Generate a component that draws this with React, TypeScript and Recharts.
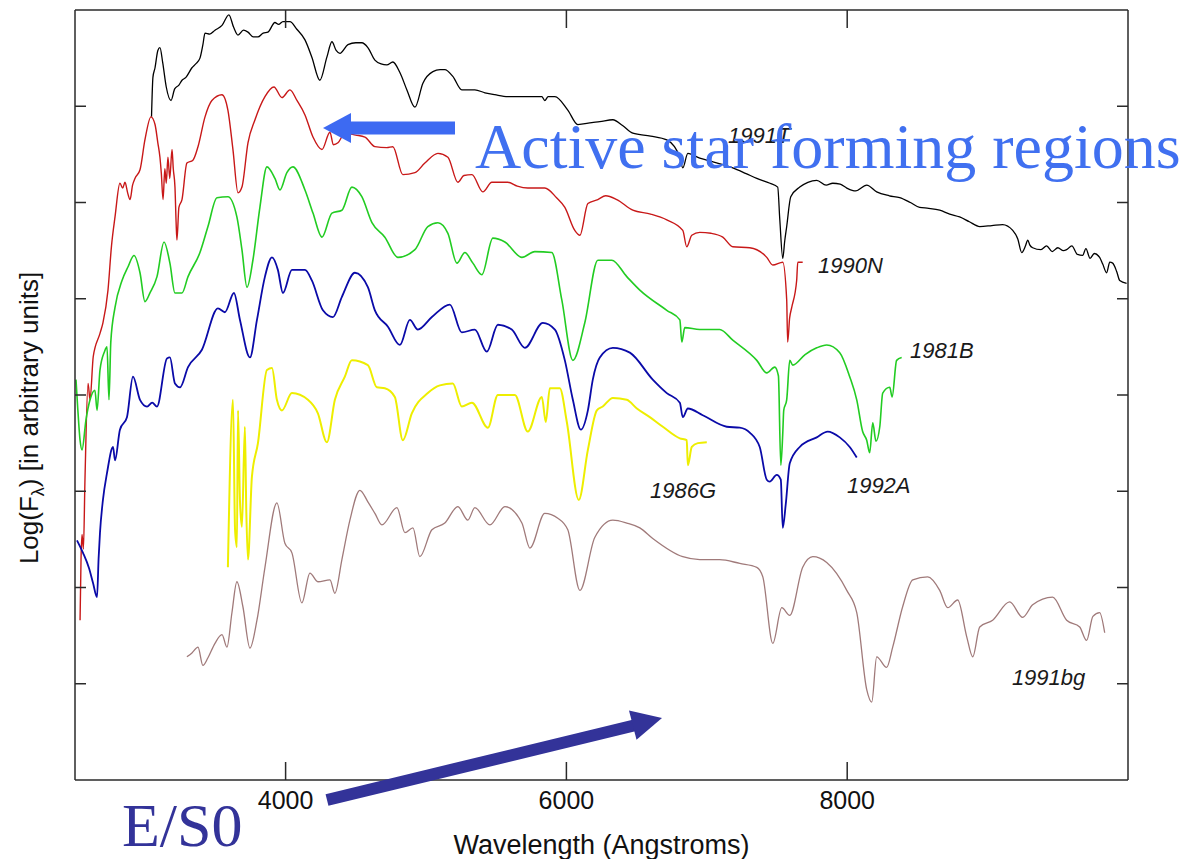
import { LineChart, Line, XAxis, YAxis, ReferenceDot } from 'recharts';

// spectra: [wavelength (Å), log flux (arbitrary, offset per SN)]
const sn1991T = [
  [3045, 6.89], [3055, 7.3], [3070, 7.4], [3090, 7.58], [3105, 7.61], [3125, 7.45], [3150, 7.2], [3184, 7.06],
  [3210, 7.18], [3240, 7.22], [3262, 7.27], [3290, 7.3], [3333, 7.4], [3360, 7.44], [3390, 7.5], [3411, 7.64],
  [3426, 7.76], [3460, 7.75], [3497, 7.79], [3547, 7.84], [3596, 7.95], [3630, 7.82], [3661, 7.74], [3700, 7.79],
  [3732, 7.77], [3770, 7.72], [3803, 7.72], [3840, 7.76], [3874, 7.77], [3924, 7.87], [3950, 7.85], [3981, 7.88],
  [4031, 7.88], [4080, 7.8], [4138, 7.69], [4187, 7.51], [4244, 7.27], [4294, 7.51], [4330, 7.67], [4360, 7.58],
  [4387, 7.55], [4444, 7.64], [4500, 7.66], [4543, 7.66], [4586, 7.61], [4636, 7.48], [4680, 7.44], [4721, 7.43],
  [4764, 7.46], [4814, 7.35], [4864, 7.17], [4921, 6.99], [4978, 7.24], [5049, 7.36], [5100, 7.38], [5134, 7.38],
  [5191, 7.31], [5255, 7.17], [5348, 7.17], [5420, 7.14], [5490, 7.12], [5583, 7.1], [5700, 7.1], [5825, 7.1],
  [5846, 7.06], [5870, 7.1], [5918, 7.1], [6010, 6.96], [6081, 6.81], [6181, 6.83], [6238, 6.84], [6331, 6.86],
  [6400, 6.8], [6473, 6.72], [6600, 6.69], [6715, 6.65], [6808, 6.47], [6829, 6.36], [6865, 6.51], [6950, 6.46],
  [7050, 6.42], [7185, 6.36], [7280, 6.3], [7356, 6.25], [7450, 6.2], [7505, 6.16], [7520, 5.82], [7541, 5.42],
  [7555, 5.6], [7569, 5.75], [7598, 6.06], [7662, 6.16], [7720, 6.21], [7783, 6.23], [7850, 6.18], [7897, 6.2],
  [7950, 6.19], [7997, 6.15], [8060, 6.12], [8139, 6.18], [8210, 6.11], [8300, 6.07], [8374, 6.05], [8450, 6.0],
  [8516, 5.95], [8580, 5.94], [8659, 5.92], [8730, 5.88], [8801, 5.85], [8870, 5.8], [8944, 5.75], [9030, 5.76],
  [9107, 5.77], [9179, 5.71], [9215, 5.62], [9243, 5.48], [9270, 5.55], [9286, 5.61], [9300, 5.56], [9321, 5.53],
  [9380, 5.51], [9420, 5.55], [9460, 5.49], [9500, 5.53], [9540, 5.5], [9563, 5.51], [9600, 5.55], [9640, 5.46],
  [9677, 5.45], [9700, 5.52], [9730, 5.42], [9760, 5.47], [9798, 5.43], [9820, 5.36], [9848, 5.27], [9870, 5.38],
  [9891, 5.37], [9920, 5.28], [9941, 5.19], [9990, 5.16],
];

const sn1990N = [
  [2536, 1.66], [2543, 2.3], [2550, 2.55], [2560, 2.4], [2571, 3.12], [2593, 4.12], [2607, 3.95], [2630, 4.4],
  [2678, 4.64], [2699, 4.75], [2735, 5.09], [2760, 5.55], [2785, 5.85], [2820, 6.2], [2840, 6.15], [2856, 6.21],
  [2875, 6.1], [2892, 6.03], [2910, 6.18], [2927, 6.25], [2963, 6.34], [2998, 6.65], [3041, 6.89], [3070, 6.81],
  [3090, 6.62], [3105, 6.47], [3115, 6.3], [3127, 6.03], [3140, 6.35], [3150, 6.2], [3162, 6.47], [3175, 6.25],
  [3191, 6.55], [3200, 6.35], [3212, 6.16], [3220, 5.8], [3226, 5.61], [3240, 5.95], [3262, 6.03], [3297, 6.41],
  [3340, 6.44], [3376, 6.58], [3426, 6.89], [3475, 7.06], [3547, 7.12], [3589, 6.96], [3625, 6.55], [3661, 6.1],
  [3689, 6.16], [3732, 6.62], [3782, 6.86], [3853, 7.1], [3917, 7.2], [3974, 7.09], [4031, 7.17], [4081, 7.06],
  [4138, 6.91], [4195, 6.68], [4259, 6.55], [4316, 6.73], [4340, 6.6], [4373, 6.62], [4422, 6.72], [4500, 6.7],
  [4565, 6.68], [4636, 6.58], [4721, 6.57], [4764, 6.58], [4835, 6.29], [4921, 6.31], [4992, 6.41], [5085, 6.51],
  [5156, 6.47], [5227, 6.21], [5270, 6.28], [5327, 6.29], [5405, 6.11], [5469, 6.21], [5583, 6.21], [5650, 6.17],
  [5725, 6.15], [5846, 6.15], [5930, 6.05], [5989, 5.95], [6060, 5.71], [6096, 5.66], [6153, 5.99], [6224, 6.03],
  [6280, 6.07], [6359, 6.03], [6473, 5.92], [6600, 5.88], [6715, 5.82], [6829, 5.71], [6857, 5.54], [6893, 5.66],
  [6950, 5.69], [7030, 5.68], [7114, 5.64], [7185, 5.54], [7306, 5.53], [7427, 5.43], [7470, 5.35], [7541, 5.38],
  [7569, 4.99], [7576, 4.55], [7590, 4.8], [7605, 4.91], [7640, 5.19], [7648, 5.38], [7683, 5.38],
];

const sn1981B = [
  [2507, 4.16], [2520, 3.85], [2536, 3.53], [2550, 3.43], [2578, 3.74], [2607, 3.95], [2642, 4.05], [2657, 3.84],
  [2678, 4.26], [2710, 4.45], [2728, 4.5], [2742, 3.95], [2755, 4.55], [2785, 4.91], [2835, 5.19], [2877, 5.33],
  [2920, 5.45], [2963, 5.27], [2998, 4.97], [3034, 5.06], [3084, 5.23], [3134, 5.59], [3176, 5.37], [3212, 5.06],
  [3262, 5.06], [3305, 5.23], [3390, 5.48], [3447, 5.75], [3511, 6.05], [3589, 6.06], [3653, 5.85], [3689, 5.51],
  [3725, 5.12], [3767, 5.4], [3817, 5.95], [3867, 6.37], [3924, 6.25], [3960, 6.13], [4009, 6.31], [4052, 6.37],
  [4138, 6.13], [4195, 5.89], [4259, 5.64], [4330, 5.89], [4401, 5.92], [4472, 6.16], [4543, 6.06], [4615, 5.79],
  [4707, 5.64], [4800, 5.43], [4921, 5.51], [5013, 5.75], [5085, 5.79], [5156, 5.68], [5220, 5.37], [5277, 5.48],
  [5334, 5.37], [5398, 5.25], [5476, 5.63], [5562, 5.59], [5683, 5.43], [5775, 5.49], [5896, 5.48], [5967, 4.99],
  [6046, 4.36], [6131, 4.75], [6224, 5.4], [6323, 5.4], [6430, 5.23], [6523, 5.09], [6715, 4.88], [6808, 4.78],
  [6822, 4.55], [6843, 4.7], [6950, 4.68], [7092, 4.68], [7185, 4.57], [7356, 4.36], [7427, 4.23], [7484, 4.29],
  [7510, 4.2], [7527, 3.27], [7541, 3.6], [7548, 3.84], [7569, 3.95], [7591, 4.36], [7612, 4.31], [7700, 4.42],
  [7783, 4.49], [7854, 4.52], [7947, 4.44], [8018, 4.19], [8068, 3.95], [8110, 3.62], [8139, 3.53], [8160, 3.4],
  [8182, 3.71], [8205, 3.52], [8232, 3.67], [8253, 4.02], [8303, 4.08], [8320, 3.98], [8352, 4.36], [8388, 4.39],
];

const sn1992A = [
  [2514, 2.49], [2557, 2.36], [2600, 2.2], [2628, 2.05], [2657, 1.9], [2668, 2.3], [2678, 2.57], [2699, 2.91],
  [2728, 3.19], [2771, 3.46], [2785, 3.32], [2820, 3.64], [2870, 3.77], [2913, 4.19], [2963, 3.95], [3013, 3.88],
  [3050, 3.92], [3084, 3.88], [3155, 4.38], [3176, 4.39], [3212, 4.12], [3248, 4.08], [3305, 4.29], [3404, 4.47],
  [3518, 4.9], [3568, 4.86], [3632, 5.06], [3675, 4.78], [3746, 4.39], [3796, 4.78], [3853, 5.23], [3903, 5.43],
  [3945, 5.3], [3981, 5.06], [4045, 5.3], [4138, 5.3], [4187, 5.19], [4266, 4.88], [4337, 4.81], [4401, 5.02],
  [4494, 5.27], [4586, 5.12], [4636, 4.88], [4729, 4.71], [4814, 4.52], [4885, 4.78], [4942, 4.68], [5042, 4.81],
  [5170, 4.94], [5255, 4.65], [5348, 4.68], [5433, 4.45], [5512, 4.73], [5611, 4.68], [5704, 4.49], [5832, 4.75],
  [5918, 4.68], [5989, 4.36], [6046, 3.95], [6103, 3.64], [6153, 3.84], [6188, 4.16], [6238, 4.39], [6331, 4.49],
  [6452, 4.44], [6615, 4.16], [6715, 4.02], [6808, 3.92], [6829, 3.77], [6865, 3.86], [6971, 3.79], [7142, 3.67],
  [7235, 3.66], [7306, 3.61], [7377, 3.46], [7427, 3.12], [7448, 3.1], [7498, 3.17], [7527, 3.12], [7541, 2.62],
  [7562, 2.86], [7591, 3.29], [7662, 3.46], [7783, 3.56], [7861, 3.62], [7947, 3.56], [8018, 3.46], [8068, 3.35],
];

const sn1986G = [
  [3589, 2.21], [3625, 3.95], [3640, 2.6], [3653, 2.42], [3661, 3.84], [3675, 2.9], [3689, 2.63], [3710, 3.67],
  [3720, 2.8], [3732, 2.29], [3760, 3.15], [3803, 3.5], [3867, 4.26], [3903, 4.28], [3938, 3.95], [3974, 3.84],
  [4045, 4.02], [4159, 3.95], [4230, 3.81], [4294, 3.51], [4351, 3.95], [4422, 4.19], [4472, 4.36], [4586, 4.31],
  [4650, 4.08], [4707, 4.07], [4778, 3.98], [4835, 3.53], [4899, 3.81], [5013, 4.02], [5099, 4.1], [5191, 4.12],
  [5255, 3.88], [5327, 3.92], [5441, 3.66], [5512, 4.0], [5633, 4.0], [5725, 3.62], [5825, 3.98], [5853, 3.72],
  [5882, 4.07], [5953, 4.07], [6003, 3.72], [6088, 2.91], [6153, 3.43], [6217, 3.84], [6259, 3.88], [6331, 3.97],
  [6430, 3.95], [6502, 3.86], [6594, 3.77], [6687, 3.67], [6808, 3.55], [6857, 3.53], [6865, 3.27], [6893, 3.46],
  [6936, 3.5], [7000, 3.51],
];

const sn1991bg = [
  [3297, 1.28], [3333, 1.32], [3376, 1.38], [3411, 1.19], [3447, 1.27], [3497, 1.42], [3547, 1.51], [3582, 1.38],
  [3618, 1.74], [3653, 2.06], [3696, 1.8], [3746, 1.37], [3796, 1.66], [3853, 2.21], [3938, 2.88], [3995, 2.46],
  [4045, 2.36], [4116, 1.84], [4173, 2.15], [4230, 2.06], [4316, 2.08], [4351, 1.94], [4401, 2.29], [4458, 2.7],
  [4529, 3.01], [4586, 2.89], [4636, 2.77], [4686, 2.65], [4793, 2.83], [4850, 2.57], [4907, 2.62], [4956, 2.32],
  [5042, 2.6], [5134, 2.67], [5227, 2.84], [5298, 2.7], [5348, 2.83], [5455, 2.65], [5562, 2.84], [5683, 2.67],
  [5740, 2.41], [5846, 2.77], [5939, 2.72], [6010, 2.6], [6096, 1.97], [6202, 2.52], [6331, 2.7], [6430, 2.67],
  [6523, 2.62], [6615, 2.51], [6829, 2.32], [6950, 2.29], [7092, 2.29], [7235, 2.25], [7356, 2.21], [7399, 2.11],
  [7470, 1.42], [7534, 1.79], [7591, 1.71], [7683, 2.21], [7755, 2.32], [7854, 2.26], [7997, 1.97], [8068, 1.74],
  [8139, 0.94], [8175, 0.81], [8210, 1.28], [8281, 1.17], [8324, 1.38], [8395, 1.8], [8467, 2.08], [8573, 2.11],
  [8659, 1.97], [8716, 1.79], [8787, 1.87], [8851, 1.49], [8894, 1.28], [8944, 1.59], [9036, 1.66], [9157, 1.85],
  [9250, 1.69], [9321, 1.82], [9463, 1.9], [9563, 1.66], [9656, 1.59], [9705, 1.45], [9750, 1.7], [9798, 1.74],
  [9834, 1.53],
];

const wavelengthTicks = [4000, 6000, 8000];
const fluxTicks = [1, 2, 3, 4, 5, 6, 7];

// curve names, anchored at [wavelength, flux]
const curveLabels: [number, number, string][] = [
  [7151, 6.62, '1991T'],
  [7792, 5.27, '1990N'],
  [8447, 4.38, '1981B'],
  [6595, 2.93, '1986G'],
  [7998, 2.98, '1992A'],
  [9173, 0.99, '1991bg'],
];

const spectra = [
  { name: '1991T', pts: sn1991T, color: '#000000', width: 1.3 },
  { name: '1990N', pts: sn1990N, color: '#c81818', width: 1.4 },
  { name: '1981B', pts: sn1981B, color: '#22cc22', width: 1.6 },
  { name: '1992A', pts: sn1992A, color: '#0a0aa8', width: 1.8 },
  { name: '1986G', pts: sn1986G, color: '#eeee00', width: 2 },
  { name: '1991bg', pts: sn1991bg, color: '#a07a7a', width: 1.3 },
];

const toRows = (pts: number[][]) => pts.map(([w, f]) => ({ w, f }));

const SANS = '"Liberation Sans", Arial, Helvetica, sans-serif';
const SERIF = '"Liberation Serif", "Times New Roman", serif';
const AXIS = '#2a2a2a';

const BottomTick = ({ x, y, payload }: any) => (
  <g>
    <line x1={x} y1={y} x2={x} y2={y - 18} stroke={AXIS} strokeWidth={1.5} />
    <text x={x} y={y + 29} textAnchor="middle" fontSize={25} fontFamily={SANS} fill="#111">
      {payload.value}
    </text>
  </g>
);
const TopTick = ({ x, y }: any) => <line x1={x} y1={y} x2={x} y2={y + 18} stroke={AXIS} strokeWidth={1.5} />;
const LeftTick = ({ x, y }: any) => <line x1={x} y1={y} x2={x + 11} y2={y} stroke={AXIS} strokeWidth={1.5} />;
const RightTick = ({ x, y }: any) => <line x1={x} y1={y} x2={x - 11} y2={y} stroke={AXIS} strokeWidth={1.5} />;

export default function App() {
  return (
    <div style={{ position: 'absolute', left: 0, top: 0, width: 1195, height: 859, background: '#fff' }}>
      <LineChart width={1195} height={859} margin={{ top: 9, right: 66, bottom: 0, left: 0 }}>
        <XAxis
          dataKey="w"
          type="number"
          domain={[2500, 10000]}
          ticks={wavelengthTicks}
          allowDataOverflow
          height={79}
          tickSize={0}
          tickMargin={0}
          tickLine={false}
          tick={<BottomTick />}
          axisLine={{ stroke: AXIS, strokeWidth: 1.5 }}
          label={{ value: 'Wavelength (Angstroms)', position: 'insideBottom', offset: 5, fontSize: 27, fontFamily: SANS, fill: '#111' }}
        />
        <XAxis
          xAxisId="top"
          orientation="top"
          dataKey="w"
          type="number"
          domain={[2500, 10000]}
          ticks={wavelengthTicks}
          allowDataOverflow
          height={1}
          tickSize={0}
          tickMargin={0}
          tickLine={false}
          tick={<TopTick />}
          axisLine={{ stroke: AXIS, strokeWidth: 1.5 }}
        />
        <YAxis
          type="number"
          domain={[0, 8]}
          ticks={fluxTicks}
          allowDataOverflow
          width={75}
          tickSize={0}
          tickMargin={0}
          tickLine={false}
          tick={<LeftTick />}
          axisLine={{ stroke: AXIS, strokeWidth: 1.5 }}
        />
        <YAxis
          yAxisId="right"
          orientation="right"
          type="number"
          domain={[0, 8]}
          ticks={fluxTicks}
          allowDataOverflow
          width={1}
          tickSize={0}
          tickMargin={0}
          tickLine={false}
          tick={<RightTick />}
          axisLine={{ stroke: AXIS, strokeWidth: 1.5 }}
        />
        {spectra.map((s) => (
          <Line
            key={s.name}
            data={toRows(s.pts)}
            dataKey="f"
            type="monotone"
            stroke={s.color}
            strokeWidth={s.width}
            dot={false}
            isAnimationActive={false}
          />
        ))}
        {curveLabels.map(([w, f, name]) => (
          <ReferenceDot
            key={name}
            x={w}
            y={f}
            r={0}
            ifOverflow="visible"
            shape={(p: any) => (
              <text x={p.cx} y={p.cy} fontSize={22} fontStyle="italic" fontFamily={SANS} fill="#1a1a1a">
                {name}
              </text>
            )}
          />
        ))}
      </LineChart>

      <svg
        width={1195}
        height={859}
        style={{ position: 'absolute', left: 0, top: 0, pointerEvents: 'none' }}
      >
        <text transform="translate(38,418) rotate(-90)" textAnchor="middle" fontSize={26} fontFamily={SANS} fill="#111">
          Log(F<tspan fontSize={18} dy={6}>λ</tspan>
          <tspan dy={-6}>) [in arbitrary units]</tspan>
        </text>

        {/* Active star forming regions */}
        <rect x={347} y={121.5} width={108} height={13} fill="#3d6af2" />
        <polygon points="323,128 351,113 351,143" fill="#3d6af2" />
        <text x={475} y={168} fontSize={64} fontFamily={SERIF} fill="#4070f0">
          Active star forming regions
        </text>

        {/* E/S0 */}
        <line x1={327} y1={800} x2={636} y2={725} stroke="#333399" strokeWidth={12} />
        <polygon points="662,718 629,710.5 636.5,739.7" fill="#333399" />
        <text x={122} y={846} fontSize={62} fontFamily={SERIF} fill="#333399">
          E/S0
        </text>
      </svg>
    </div>
  );
}
